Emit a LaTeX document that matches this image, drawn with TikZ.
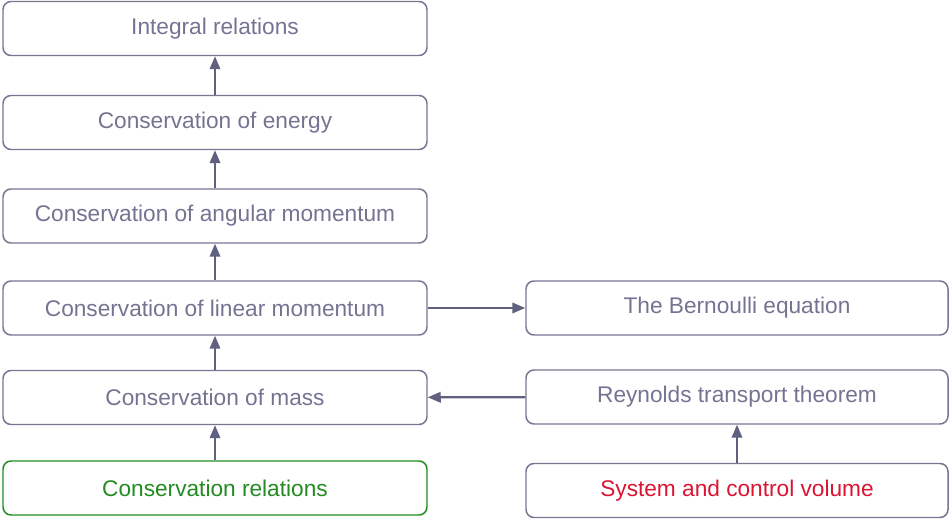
\documentclass[tikz,border=0pt]{standalone}
\usepackage{fontspec}
\setmainfont{Liberation Sans}
\usetikzlibrary{arrows.meta}
\definecolor{boxgray}{RGB}{118,118,146}
\definecolor{txtgray}{RGB}{116,116,146}
\definecolor{arrgray}{RGB}{96,96,128}
\definecolor{relgreen}{RGB}{34,140,34}
\definecolor{sysred}{RGB}{218,20,50}
\tikzset{
  relbox/.style={draw=boxgray, line width=0.85pt, rounded corners=0.16cm,
    minimum width=8.48cm, minimum height=1.08cm, inner sep=0pt,
    text=txtgray, font=\fontsize{12.9}{15}\selectfont},
  flow/.style={draw=arrgray, line width=1.2pt, -{Triangle[length=2.6mm, width=2.1mm]}}
}
\begin{document}
\begin{tikzpicture}
    \useasboundingbox (0,0) rectangle (18.98,10.38);

    % linke Spalte
    \node[relbox] (integral) at (4.30, 9.81) {Integral relations};
    \node[relbox] (energy)   at (4.30, 7.93) {Conservation of energy};
    \node[relbox] (angular)  at (4.30, 6.06) {Conservation of angular momentum};
    \node[relbox] (linear)   at (4.30, 4.22) {Conservation of linear momentum};
    \node[relbox] (mass)     at (4.30, 2.43) {Conservation of mass};
    \node[relbox, draw=relgreen, text=relgreen] (conserv) at (4.30, 0.62) {Conservation relations};

    % rechte Spalte
    \node[relbox, minimum width=8.44cm] (bernoulli) at (14.74, 4.22) {The Bernoulli equation};
    \node[relbox, minimum width=8.44cm] (reynolds)  at (14.74, 2.44) {Reynolds transport theorem};
    \node[relbox, minimum width=8.44cm, text=sysred] (system) at (14.74, 0.57) {System and control volume};

    % Pfeile
    \draw[flow] (conserv) -- (mass);
    \draw[flow] (mass) -- (linear);
    \draw[flow] (linear) -- (angular);
    \draw[flow] (angular) -- (energy);
    \draw[flow] (energy) -- (integral);
    \draw[flow] (linear) -- (bernoulli);
    \draw[flow] (system) -- (reynolds);
    \draw[flow] (reynolds) -- (mass);
\end{tikzpicture}
\end{document}
